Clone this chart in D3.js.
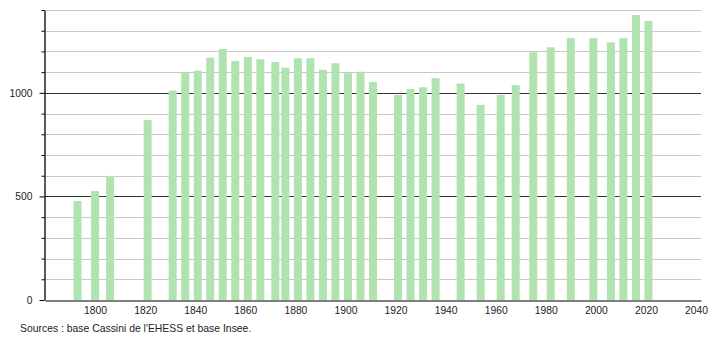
<!DOCTYPE html>
<html>
<head>
<meta charset="utf-8">
<script src="https://cdn.jsdelivr.net/npm/d3@7"></script>
<style>
  html, body { margin: 0; padding: 0; background: #fff; }
  svg { display: block; font-family: "Liberation Sans", Arial, sans-serif; }
</style>
</head>
<body>
<svg id="chart" width="710" height="340"></svg>
<script>
const years = [1793, 1800, 1806, 1821, 1831, 1836, 1841, 1846, 1851, 1856, 1861, 1866, 1872, 1876, 1881, 1886, 1891, 1896, 1901, 1906, 1911, 1921, 1926, 1931, 1936, 1946, 1954, 1962, 1968, 1975, 1982, 1990, 1999, 2006, 2011, 2016, 2021];
const population = [478, 526, 599, 869, 1011, 1098, 1107, 1170, 1212, 1154, 1173, 1162, 1149, 1122, 1167, 1167, 1111, 1143, 1095, 1102, 1053, 990, 1019, 1027, 1071, 1045, 942, 990, 1038, 1196, 1220, 1264, 1264, 1244, 1264, 1376, 1347];
const xTickLabels = [1800, 1820, 1840, 1860, 1880, 1900, 1920, 1940, 1960, 1980, 2000, 2020, 2040];
const yMajorTicks = [0, 500, 1000];
const yMinorTicks = [100, 200, 300, 400, 600, 700, 800, 900, 1100, 1200, 1300, 1400];
const sourceText = "Sources : base Cassini de l'EHESS et base Insee.";

const svg = d3.select("#chart");
const x = d3.scaleLinear().domain([1780, 2042]).range([45, 701]);
const y = d3.scaleLinear().domain([0, 1400]).range([300, 10]);

// gridlines
const grid = svg.append("g");
grid.selectAll("line.minor").data(yMinorTicks).join("line")
  .attr("x1", 45).attr("x2", 701)
  .attr("y1", d => Math.round(y(d)) + 0.5).attr("y2", d => Math.round(y(d)) + 0.5)
  .attr("stroke", "#c8c8c8").attr("stroke-width", 1);
grid.selectAll("line.major").data(yMajorTicks.filter(d => d > 0)).join("line")
  .attr("x1", 45).attr("x2", 701)
  .attr("y1", d => Math.round(y(d)) + 0.5).attr("y2", d => Math.round(y(d)) + 0.5)
  .attr("stroke", "#333").attr("stroke-width", 1);

// bars
const barW = 8;
svg.append("g").selectAll("rect").data(years).join("rect")
  .attr("x", (d) => x(d) - barW / 2)
  .attr("width", barW)
  .attr("y", (d, i) => y(population[i]))
  .attr("height", (d, i) => y(0) - y(population[i]))
  .attr("fill", "#b0e3b0");

// y axis minor ticks
svg.append("g").attr("transform", "translate(44.5,0)")
  .call(d3.axisLeft(y).tickValues(yMinorTicks).tickSize(3).tickFormat(""))
  .call(g => g.select(".domain").remove())
  .call(g => g.selectAll("line").attr("stroke", "#000"));
// y axis major
svg.append("g").attr("transform", "translate(44.5,0)")
  .call(d3.axisLeft(y).tickValues(yMajorTicks).tickSize(5).tickSizeOuter(0).tickPadding(7).tickFormat(d3.format("d")))
  .call(g => g.select(".domain").attr("stroke", "#000").attr("stroke-width", 1.3))
  .call(g => g.selectAll("line").attr("stroke", "#000"))
  .call(g => g.selectAll("text").attr("font-size", 10.3).attr("font-family", "Liberation Sans, Arial, sans-serif").attr("fill", "#222"));

// x axis
svg.append("g").attr("transform", "translate(0,300.5)")
  .call(d3.axisBottom(x).tickValues(xTickLabels).tickSize(0).tickSizeOuter(0).tickPadding(6).tickFormat(d3.format("d")))
  .call(g => g.select(".domain").attr("stroke", "#000"))
  .call(g => g.selectAll("text").attr("font-size", 10.3).attr("font-family", "Liberation Sans, Arial, sans-serif").attr("fill", "#222"));

// source
svg.append("text").attr("x", 20).attr("y", 332)
  .attr("font-size", 10.4).attr("fill", "#222").text(sourceText);
</script>
</body>
</html>
